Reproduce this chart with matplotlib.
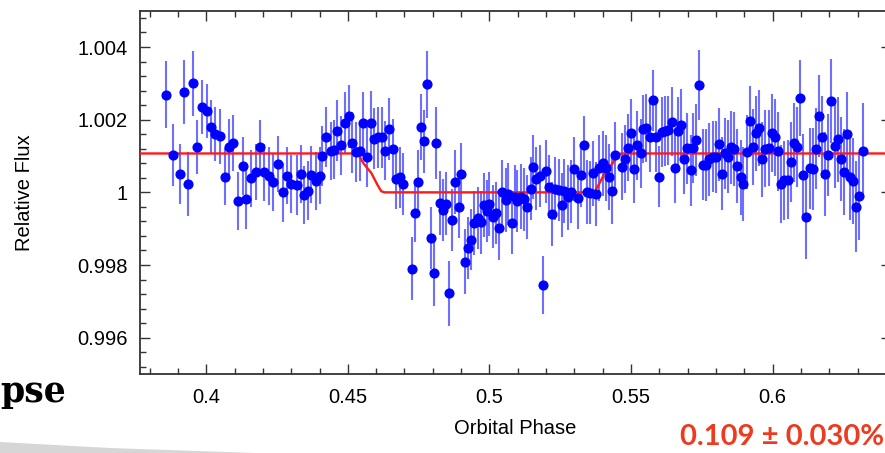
import numpy as np
import matplotlib
matplotlib.use("Agg")
import matplotlib.pyplot as plt
from matplotlib.ticker import MultipleLocator
from matplotlib.patches import Polygon

# eclipse light curve, phase / relative flux / 1-sigma error
phase = [
    0.3859, 0.3881, 0.3907, 0.3921, 0.3937, 0.3953, 0.3969, 0.3984, 0.4001, 0.4016,
    0.4030, 0.4048, 0.4065, 0.4079, 0.4095, 0.4111, 0.4128, 0.4141, 0.4158, 0.4175,
    0.4189, 0.4204, 0.4221, 0.4237, 0.4253, 0.4270, 0.4284, 0.4300, 0.4321, 0.4334,
    0.4345, 0.4361, 0.4371, 0.4387, 0.4400, 0.4409, 0.4424, 0.4439, 0.4452, 0.4462,
    0.4476, 0.4489, 0.4503, 0.4515, 0.4528, 0.4542, 0.4553, 0.4568, 0.4580, 0.4593,
    0.4607, 0.4620, 0.4632, 0.4644, 0.4658, 0.4670, 0.4685, 0.4696, 0.4725, 0.4736,
    0.4748, 0.4758, 0.4770, 0.4780, 0.4793, 0.4803, 0.4813, 0.4824, 0.4835, 0.4847,
    0.4858, 0.4869, 0.4880, 0.4892, 0.4901, 0.4913, 0.4924, 0.4935, 0.4946, 0.4958,
    0.4969, 0.4980, 0.4990, 0.5000, 0.5013, 0.5023, 0.5035, 0.5045, 0.5058, 0.5067,
    0.5078, 0.5089, 0.5099, 0.5111, 0.5122, 0.5133, 0.5145, 0.5155, 0.5164, 0.5177,
    0.5189, 0.5200, 0.5211, 0.5222, 0.5233, 0.5245, 0.5255, 0.5265, 0.5277, 0.5289,
    0.5300, 0.5311, 0.5322, 0.5333, 0.5345, 0.5356, 0.5366, 0.5377, 0.5388, 0.5400,
    0.5411, 0.5423, 0.5434, 0.5443, 0.5467, 0.5478, 0.5488, 0.5499, 0.5510, 0.5521,
    0.5534, 0.5542, 0.5553, 0.5566, 0.5576, 0.5587, 0.5599, 0.5610, 0.5620, 0.5632,
    0.5643, 0.5655, 0.5665, 0.5677, 0.5688, 0.5698, 0.5710, 0.5720, 0.5731, 0.5740,
    0.5754, 0.5764, 0.5775, 0.5788, 0.5799, 0.5809, 0.5820, 0.5831, 0.5843, 0.5853,
    0.5864, 0.5875, 0.5887, 0.5896, 0.5908, 0.5920, 0.5930, 0.5941, 0.5953, 0.5963,
    0.5973, 0.5986, 0.5998, 0.6008, 0.6019, 0.6029, 0.6041, 0.6053, 0.6065, 0.6074,
    0.6086, 0.6096, 0.6107, 0.6119, 0.6131, 0.6142, 0.6153, 0.6164, 0.6174, 0.6186,
    0.6197, 0.6207, 0.6219, 0.6230, 0.6240, 0.6252, 0.6264, 0.6273, 0.6285, 0.6295,
    0.6306, 0.6318,
]
flux = [
    1.00269, 1.00102, 1.00051, 1.00275, 1.00023, 1.00300, 1.00125, 1.00235, 1.00223, 1.00181,
    1.00160, 1.00154, 1.00043, 1.00125, 1.00135, 0.99975, 1.00073, 0.99981, 1.00039, 1.00057,
    1.00124, 1.00055, 1.00045, 1.00028, 1.00078, 1.00000, 1.00046, 1.00023, 1.00020, 1.00051,
    0.99992, 1.00005, 1.00049, 1.00031, 1.00046, 1.00100, 1.00153, 1.00115, 1.00117, 1.00170,
    1.00129, 1.00190, 1.00209, 1.00137, 1.00111, 1.00113, 1.00191, 1.00098, 1.00192, 1.00147,
    1.00151, 1.00151, 1.00115, 1.00174, 1.00118, 1.00036, 1.00041, 1.00023, 0.99790, 0.99942,
    1.00029, 1.00180, 1.00141, 1.00297, 0.99875, 0.99778, 1.00136, 0.99970, 0.99951, 0.99969,
    0.99722, 0.99924, 1.00029, 0.99959, 1.00050, 0.99809, 0.99847, 0.99869, 0.99916, 0.99929,
    0.99918, 0.99965, 0.99948, 0.99969, 0.99933, 0.99943, 0.99902, 1.00000, 0.99979, 0.99996,
    0.99917, 0.99988, 0.99976, 0.99988, 0.99981, 0.99960, 1.00010, 1.00069, 1.00038, 1.00045,
    0.99744, 1.00058, 1.00016, 0.99941, 1.00010, 1.00007, 0.99966, 1.00004, 0.99986, 1.00002,
    1.00063, 0.99984, 1.00047, 1.00131, 1.00000, 0.99999, 1.00052, 0.99996, 1.00067, 1.00080,
    1.00067, 1.00042, 1.00004, 1.00103, 1.00071, 1.00092, 1.00123, 1.00162, 1.00064, 1.00129,
    1.00107, 1.00174, 1.00177, 1.00151, 1.00253, 1.00152, 1.00043, 1.00167, 1.00169, 1.00171,
    1.00195, 1.00068, 1.00168, 1.00186, 1.00092, 1.00121, 1.00061, 1.00122, 1.00144, 1.00296,
    1.00076, 1.00074, 1.00091, 1.00098, 1.00098, 1.00132, 1.00051, 1.00107, 1.00098, 1.00124,
    1.00120, 1.00073, 1.00041, 1.00022, 1.00111, 1.00197, 1.00125, 1.00162, 1.00177, 1.00091,
    1.00120, 1.00122, 1.00164, 1.00151, 1.00113, 1.00024, 1.00033, 1.00035, 1.00084, 1.00137,
    1.00125, 1.00260, 1.00048, 0.99931, 1.00066, 1.00064, 1.00120, 1.00210, 1.00153, 1.00051,
    1.00103, 1.00252, 1.00127, 1.00146, 1.00092, 1.00056, 1.00160, 1.00042, 1.00032, 0.99960,
    0.99990, 1.00115,
]
flux_err = [
    0.00093, 0.00085, 0.00083, 0.00088, 0.00089, 0.00090, 0.00075, 0.00075, 0.00074, 0.00072,
    0.00075, 0.00076, 0.00078, 0.00076, 0.00077, 0.00080, 0.00079, 0.00081, 0.00078, 0.00077,
    0.00076, 0.00078, 0.00080, 0.00079, 0.00077, 0.00081, 0.00078, 0.00080, 0.00082, 0.00079,
    0.00080, 0.00081, 0.00079, 0.00080, 0.00078, 0.00082, 0.00083, 0.00080, 0.00081, 0.00084,
    0.00082, 0.00085, 0.00086, 0.00083, 0.00082, 0.00081, 0.00085, 0.00083, 0.00086, 0.00084,
    0.00085, 0.00083, 0.00082, 0.00086, 0.00084, 0.00083, 0.00085, 0.00084, 0.00086, 0.00080,
    0.00088, 0.00090, 0.00087, 0.00092, 0.00085, 0.00090, 0.00098, 0.00088, 0.00086, 0.00087,
    0.00090, 0.00085, 0.00088, 0.00086, 0.00087, 0.00090, 0.00086, 0.00084, 0.00088, 0.00085,
    0.00087, 0.00089, 0.00086, 0.00088, 0.00087, 0.00085, 0.00088, 0.00089, 0.00087, 0.00086,
    0.00088, 0.00087, 0.00086, 0.00089, 0.00087, 0.00088, 0.00086, 0.00088, 0.00087, 0.00086,
    0.00080, 0.00087, 0.00086, 0.00088, 0.00087, 0.00086, 0.00088, 0.00087, 0.00089, 0.00087,
    0.00088, 0.00086, 0.00087, 0.00079, 0.00088, 0.00087, 0.00089, 0.00088, 0.00090, 0.00089,
    0.00091, 0.00090, 0.00092, 0.00091, 0.00093, 0.00094, 0.00092, 0.00095, 0.00093, 0.00094,
    0.00095, 0.00093, 0.00094, 0.00096, 0.00085, 0.00095, 0.00084, 0.00096, 0.00097, 0.00095,
    0.00096, 0.00097, 0.00095, 0.00098, 0.00096, 0.00097, 0.00098, 0.00096, 0.00099, 0.00097,
    0.00098, 0.00099, 0.00100, 0.00098, 0.00099, 0.00101, 0.00100, 0.00099, 0.00101, 0.00100,
    0.00102, 0.00101, 0.00103, 0.00102, 0.00101, 0.00096, 0.00104, 0.00103, 0.00105, 0.00104,
    0.00106, 0.00105, 0.00107, 0.00106, 0.00108, 0.00107, 0.00109, 0.00108, 0.00110, 0.00109,
    0.00111, 0.00105, 0.00112, 0.00115, 0.00111, 0.00113, 0.00112, 0.00114, 0.00113, 0.00115,
    0.00114, 0.00116, 0.00115, 0.00117, 0.00116, 0.00118, 0.00117, 0.00119, 0.00118, 0.00125,
    0.00122, 0.00130,
]

# best-fit eclipse model
model_phase = [0.3700, 0.4525, 0.4540, 0.4555, 0.4583, 0.4605, 0.4618, 0.4630,
               0.5360, 0.5372, 0.5385, 0.5407, 0.5435, 0.5450, 0.5465, 0.6500]
model_flux = [1.00107, 1.00107, 1.00100, 1.00080, 1.00053, 1.00020, 1.00003, 1.00000,
              1.00000, 1.00003, 1.00020, 1.00053, 1.00080, 1.00100, 1.00107, 1.00107]

x_ticks = [0.4, 0.45, 0.5, 0.55, 0.6]
x_tick_labels = ["0.4", "0.45", "0.5", "0.55", "0.6"]
y_ticks = [0.996, 0.998, 1.0, 1.002, 1.004]
y_tick_labels = ["0.996", "0.998", "1", "1.002", "1.004"]

W, H = 885, 453
fig = plt.figure(figsize=(W / 100, H / 100), dpi=100)
plt.rcParams["font.family"] = ["Liberation Sans", "DejaVu Sans"]

ax = fig.add_axes([140 / W, (H - 374) / H, 751 / W, (374 - 10.7) / H])

ax.errorbar(phase, flux, yerr=flux_err, fmt="none", ecolor="#6e6eff",
            elinewidth=1.5, capsize=0, zorder=2)
ax.plot(model_phase, model_flux, color="#ff1a1a", lw=1.7, zorder=3)
ax.plot(phase, flux, "o", color="#0000ff", ms=6.3, mec="#0000ff", zorder=4)

ax.set_xlim(0.3766, 0.6418)
ax.set_ylim(0.995, 1.005)
ax.set_xticks(x_ticks)
ax.set_xticklabels(x_tick_labels)
ax.set_yticks(y_ticks)
ax.set_yticklabels(y_tick_labels)
ax.xaxis.set_minor_locator(MultipleLocator(0.01))
ax.yaxis.set_minor_locator(MultipleLocator(0.0004))

ax.tick_params(which="both", direction="in", top=True, right=True,
               color="#333333", width=1.0, labelsize=14.5)
ax.tick_params(which="major", length=7)
ax.tick_params(which="minor", length=4)
ax.tick_params(axis="x", pad=10)
ax.tick_params(axis="y", pad=9)
for s in ax.spines.values():
    s.set_color("#333333")
    s.set_linewidth(1.3)

fig.text(515.5 / W, 1 - 429 / H, "Orbital Phase", ha="center", va="center", fontsize=14.5)
fig.text(25 / W, 1 - 193 / H, "Relative Flux", ha="center", va="center",
         rotation=90, fontsize=14.5)

# slide leftovers around the plot
fig.text(0.0, 1 - 392 / H, "pse", ha="left", va="center", fontsize=25,
         fontweight="bold", family="DejaVu Serif", color="black")
fig.text(680 / W, 1 - 437 / H, "0.109 \u00b1 0.030%", ha="left", va="center",
         fontsize=21, fontweight="bold", family="Lato", color="#ee3b1f")
fig.patches.append(Polygon([[0, 1 - 442 / H], [110 / W, 1 - 448 / H], [255 / W, 0],
                            [0, 0]], closed=True, transform=fig.transFigure,
                           facecolor="#d6d6d6", edgecolor="none"))

fig.savefig("out.png", dpi=100)
